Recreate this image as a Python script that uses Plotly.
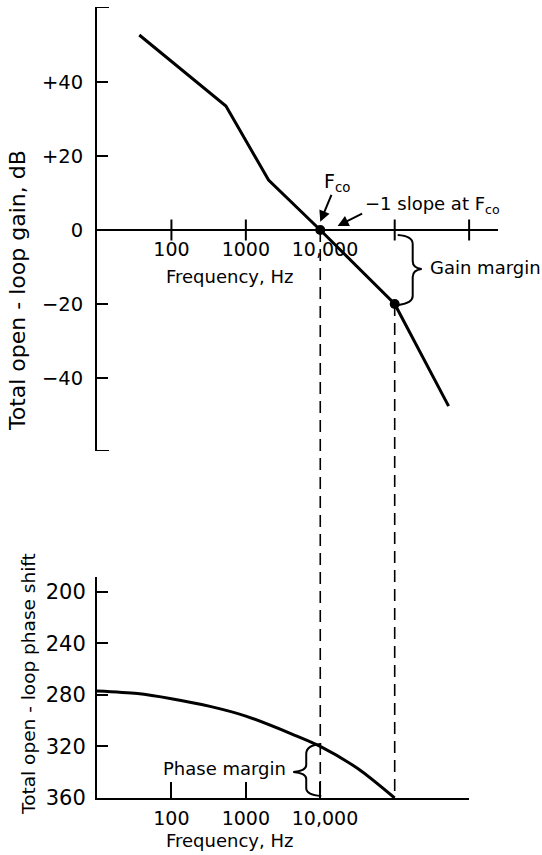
import math
import plotly.graph_objects as go

# ---------------- data ----------------
GAIN_FREQ_HZ = [37, 540, 2020, 10000, 100000, 530000]
GAIN_DB = [52.7, 33.5, 13.5, 0, -20, -47.6]

PHASE_FREQ_HZ = [10, 35, 100, 330, 1000, 4400, 10000, 31600, 100000]
PHASE_DEG = [277, 279, 283, 289, 296.5, 311, 320, 337, 360]

F_CO = 10000            # crossover frequency
F_360 = 100000          # frequency where phase reaches 360
GAIN_AT_F360 = -20
GAIN_AT_FCO = 0
F_SLOPE_POINTER = 17100  # where the "-1 slope" arrow points

GAIN_TICKS = [40, 20, 0, -20, -40]
GAIN_TICK_TEXT = ["+40", "+20", "0", "\u221220", "\u221240"]
GAIN_AXIS_ENDS = [60.27, -59.73]
PHASE_TICKS = [200, 240, 280, 320, 360]
PHASE_TICK_TEXT = ["200", "240", "280", "320", "360"]
FREQ_LABEL_VALS = [100, 1000, 10000]
FREQ_LABEL_TEXT = ["100", "1000", "\u200210,000"]
TOP_TICK_FREQS = [100, 1000, 100000, 1000000]
BOTTOM_TICK_FREQS = [100, 1000, 10000, 1000000]
BOTTOM_TICK_TEXT = ["100", "1000", "\u200210,000", ""]

# ---------------- layout geometry ----------------
W, H = 542, 855
FONT = "DejaVu Sans"
BLACK = "black"

def px_x(p):
    return p / W

def px_y(p):
    return 1 - p / H

TOP_X_RANGE = [1.0, 6.388]
TOP_X_DOM = [px_x(97), px_x(498)]
BOT_X_RANGE = [1.0, 6.002]
BOT_X_DOM = [px_x(97), px_x(469.2)]

TOP_Y_RANGE = [GAIN_AXIS_ENDS[1], GAIN_AXIS_ENDS[0]]
TOP_Y_DOM = [px_y(451), px_y(7)]
BOT_Y_RANGE = [360, 188.7]
BOT_Y_DOM = [px_y(798), px_y(577)]


def to_paper(v, rng, dom):
    frac = (v - rng[0]) / (rng[1] - rng[0])
    return dom[0] + frac * (dom[1] - dom[0])


fig = go.Figure()

# gain curve
fig.add_trace(go.Scatter(
    x=GAIN_FREQ_HZ, y=GAIN_DB, mode="lines",
    line=dict(color=BLACK, width=3), xaxis="x", yaxis="y",
    showlegend=False, hoverinfo="skip"))

# crossing ticks on the 0 dB frequency axis
fig.add_trace(go.Scatter(
    x=TOP_TICK_FREQS, y=[0] * len(TOP_TICK_FREQS), mode="markers",
    marker=dict(symbol="line-ns", size=15, line=dict(width=2, color=BLACK)),
    xaxis="x", yaxis="y", showlegend=False, hoverinfo="skip", cliponaxis=False))

# dots at F_co and at the gain-margin point
fig.add_trace(go.Scatter(
    x=[F_CO, F_360], y=[GAIN_AT_FCO, GAIN_AT_F360], mode="markers",
    marker=dict(size=10, color=BLACK), xaxis="x", yaxis="y",
    showlegend=False, hoverinfo="skip"))

# phase curve
fig.add_trace(go.Scatter(
    x=PHASE_FREQ_HZ, y=PHASE_DEG, mode="lines",
    line=dict(color=BLACK, width=3, shape="spline", smoothing=0.8),
    xaxis="x2", yaxis="y2", showlegend=False, hoverinfo="skip"))

tickfont = dict(family=FONT, size=19, color=BLACK)
common = dict(showgrid=False, zeroline=False, fixedrange=True, automargin=False,
              showline=True, linecolor=BLACK, linewidth=2)

fig.update_layout(
    template="none",
    width=W, height=H,
    margin=dict(l=0, r=0, t=0, b=0, autoexpand=False),
    paper_bgcolor="white", plot_bgcolor="white",
    font=dict(family=FONT, color=BLACK, size=18),
    showlegend=False,
    xaxis=dict(
        type="log", range=TOP_X_RANGE, domain=TOP_X_DOM,
        anchor="free", position=px_y(230),
        ticks="", tickvals=FREQ_LABEL_VALS, ticktext=FREQ_LABEL_TEXT,
        ticklabelstandoff=2, tickfont=tickfont, **common),
    yaxis=dict(
        range=TOP_Y_RANGE, domain=TOP_Y_DOM, anchor="x",
        ticks="inside", ticklen=11, tickwidth=2, tickcolor=BLACK,
        tickvals=GAIN_TICKS, ticktext=GAIN_TICK_TEXT,
        ticklabelstandoff=8, tickfont=dict(family=FONT, size=19.5, color=BLACK),
        **common),
    xaxis2=dict(
        type="log", range=BOT_X_RANGE, domain=BOT_X_DOM, anchor="y2",
        ticks="inside", ticklen=16, tickwidth=2, tickcolor=BLACK,
        tickvals=BOTTOM_TICK_FREQS, ticktext=BOTTOM_TICK_TEXT,
        ticklabelstandoff=2, tickfont=tickfont, **common),
    yaxis2=dict(
        range=BOT_Y_RANGE, domain=BOT_Y_DOM, anchor="x2",
        ticks="inside", ticklen=11, tickwidth=2, tickcolor=BLACK,
        tickvals=PHASE_TICKS, ticktext=PHASE_TICK_TEXT,
        ticklabelstandoff=5, tickfont=dict(family=FONT, size=21, color=BLACK),
        **common),
)

# serifs at both ends of the gain axis (bracket shape)
for v in GAIN_AXIS_ENDS:
    fig.add_shape(type="line", xref="x domain", yref="y",
                  x0=0, x1=12 / (498 - 97), y0=v, y1=v,
                  line=dict(color=BLACK, width=2))

# dashed verticals from the gain plot down to the 360 line
for f, g in [(F_CO, GAIN_AT_FCO), (F_360, GAIN_AT_F360)]:
    fig.add_shape(
        type="line", xref="x", yref="paper",
        x0=f, x1=f,
        y0=to_paper(g, TOP_Y_RANGE, TOP_Y_DOM),
        y1=to_paper(360, BOT_Y_RANGE, BOT_Y_DOM),
        line=dict(color=BLACK, width=1.6, dash="12px,7px"), layer="below")

# gain-margin brace (pixel offsets from the 0 dB point at F_360)
fig.add_shape(
    type="path", xref="x", yref="y", xsizemode="pixel", ysizemode="pixel",
    xanchor=F_360, yanchor=0,
    path="M 3,-5 Q 18,-6 18,-14 L 18,-31 Q 18,-38 27,-39 Q 18,-40 18,-47 "
         "L 18,-66 Q 18,-73 4,-75",
    line=dict(color=BLACK, width=2))

# phase-margin brace (pixel offsets from the 360 line at F_CO)
fig.add_shape(
    type="path", xref="x2", yref="y2", xsizemode="pixel", ysizemode="pixel",
    xanchor=F_CO, yanchor=360,
    path="M 1,54 Q -14,53 -14,44 L -14,33 Q -14,27 -27,26 Q -14,25 -14,19 "
         "L -14,10 Q -14,3 1,2",
    line=dict(color=BLACK, width=2))

ann_font = dict(family=FONT, size=18, color=BLACK)
tiny = dict(family=FONT, size=1, color="rgba(0,0,0,0)")
lg = math.log10
annotations = [
    # F_co label and arrow
    dict(text="F<sub>co</sub>", xref="paper", yref="paper",
         x=px_x(337), y=px_y(182), showarrow=False,
         font=dict(family=FONT, size=19, color=BLACK)),
    dict(text="\u00a0", xref="x", yref="y", x=lg(F_CO), y=2.2, ax=12, ay=-29,
         showarrow=True, arrowhead=2, arrowsize=1.1, arrowwidth=2,
         arrowcolor=BLACK, font=tiny),
    # -1 slope label and arrow
    dict(text="\u22121 slope at F<sub>co</sub>", xref="paper", yref="paper",
         x=px_x(363), y=px_y(205), xanchor="left", showarrow=False, font=ann_font),
    dict(text="\u00a0", xref="x", yref="y", x=lg(F_SLOPE_POINTER), y=1.1, ax=26, ay=-13,
         showarrow=True, arrowhead=2, arrowsize=1.1, arrowwidth=2,
         arrowcolor=BLACK, font=tiny),
    # gain margin
    dict(text="Gain margin", xref="x", yref="y", x=lg(F_360), y=-10.2,
         xanchor="left", xshift=33, showarrow=False, font=ann_font),
    # phase margin
    dict(text="Phase margin", xref="x2", yref="y2", x=lg(F_CO), y=337.5,
         xanchor="right", xshift=-32, showarrow=False, font=ann_font),
    # frequency axis titles
    dict(text="Frequency, Hz", xref="paper", yref="paper",
         x=px_x(229), y=px_y(276), showarrow=False, font=ann_font),
    dict(text="Frequency, Hz", xref="paper", yref="paper",
         x=px_x(229), y=px_y(840), showarrow=False, font=ann_font),
    # y-axis titles
    dict(text="Total open - loop gain, dB", xref="paper", yref="paper",
         x=px_x(18), y=px_y(291), textangle=-90, showarrow=False,
         font=dict(family=FONT, size=22, color=BLACK)),
    dict(text="Total open - loop phase shift", xref="paper", yref="paper",
         x=px_x(28), y=px_y(684), textangle=-90, showarrow=False,
         font=dict(family=FONT, size=18.5, color=BLACK)),
]
for a in annotations:
    a.setdefault("xanchor", "center")
    a.setdefault("yanchor", "middle")
fig.update_layout(annotations=annotations)

fig.write_html("out.html",
               config={"displayModeBar": False, "staticPlot": True},
               post_script="document.body.style.margin='0';document.body.style.padding='0';")
